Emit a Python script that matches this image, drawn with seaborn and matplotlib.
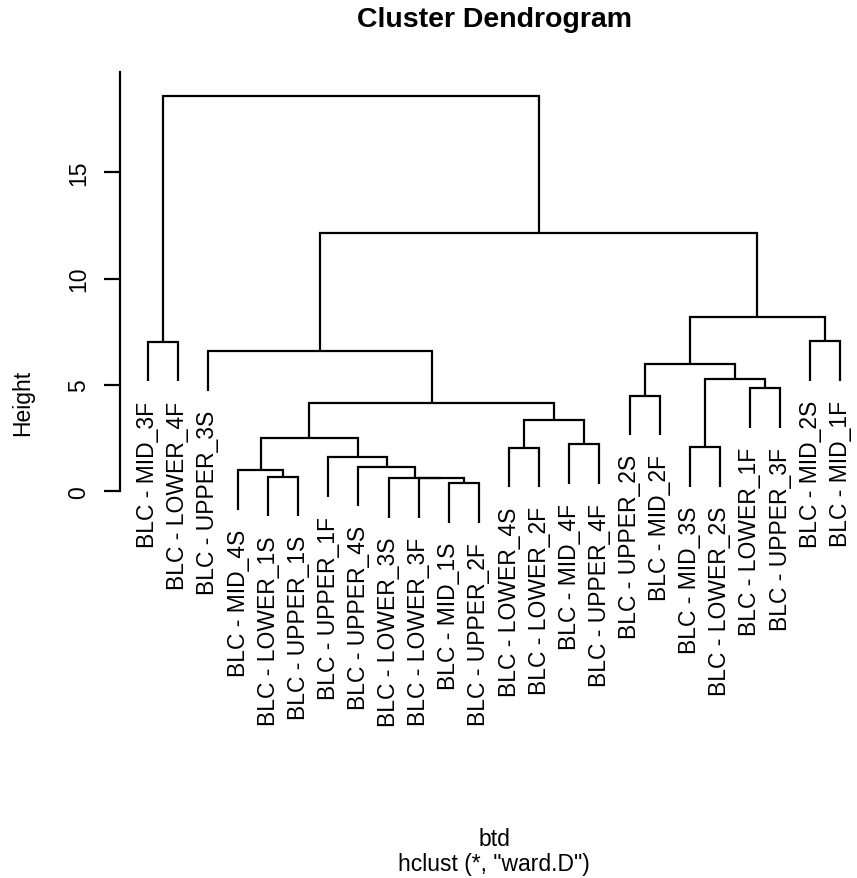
import pandas as pd
import seaborn as sns
import matplotlib.pyplot as plt
import matplotlib.transforms as mtransforms

# leaf labels, in the order they appear along the x axis
labels = ["BLC - MID_3F", "BLC - LOWER_4F", "BLC - UPPER_3S", "BLC - MID_4S",
          "BLC - LOWER_1S", "BLC - UPPER_1S", "BLC - UPPER_1F", "BLC - UPPER_4S",
          "BLC - LOWER_3S", "BLC - LOWER_3F", "BLC - MID_1S", "BLC - UPPER_2F",
          "BLC - LOWER_4S", "BLC - LOWER_2F", "BLC - MID_4F", "BLC - UPPER_4F",
          "BLC - UPPER_2S", "BLC - MID_2F", "BLC - MID_3S", "BLC - LOWER_2S",
          "BLC - LOWER_1F", "BLC - UPPER_3F", "BLC - MID_2S", "BLC - MID_1F"]

# hclust style merge table: negative = leaf number, positive = earlier merge row
merge_a = [-11, -10, -9, -5, -4, -8, -7, -13, -19, -15, 5, 8, 11,
           -17, -21, 9, 14, -3, -1, -23, 17, 18, 19]
merge_b = [-12, 1, 2, -6, 4, 3, 6, -14, -20, -16, 7, 10, 12,
           -18, -22, 15, 16, 13, -2, -24, 20, 21, 22]
heights = [0.37, 0.60, 0.62, 0.69, 0.99, 1.16, 1.60, 2.05, 2.07, 2.21, 2.52, 3.34, 4.14,
           4.49, 4.85, 5.29, 5.96, 6.57, 7.02, 7.04, 8.21, 12.16, 18.59]

y_ticks = [0, 5, 10, 15]


def dendro_segments(a_list, b_list, h_list):
    hang = 0.1 * max(h_list)
    node_x = {}
    leaf_end = {}
    rows = []
    for i, (a, b, h) in enumerate(zip(a_list, b_list, h_list), start=1):
        pts = []
        for c in (a, b):
            if c < 0:
                x, y0 = -c, h - hang
                leaf_end[-c] = y0
            else:
                x, y0 = node_x[c], h_list[c - 1]
            pts.append((x, y0))
        (xa, ya), (xb, yb) = pts
        for k, (x, y) in enumerate([(xa, ya), (xa, h), (xb, h), (xb, yb)]):
            rows.append({"seg": i, "step": k, "x": x, "y": y})
        node_x[i] = (xa + xb) / 2
    return pd.DataFrame(rows), leaf_end


segs, leaf_end = dendro_segments(merge_a, merge_b, heights)

sns.set_style("ticks")
plt.rcParams["font.family"] = ["Liberation Sans", "DejaVu Sans"]
plt.rcParams["text.color"] = "black"

fig = plt.figure(figsize=(8.57, 8.79), dpi=100)
ax = fig.add_axes([120 / 857, 1 - 733 / 879, 748 / 857, 660 / 879])

sns.lineplot(data=segs, x="x", y="y", units="seg", estimator=None, sort=False,
             color="black", linewidth=1.6, ax=ax,
             solid_joinstyle="miter", solid_capstyle="butt")

ax.set_xlim(0.08, 24.92)
ax.set_ylim(-11.32, 19.71)
ax.set_xlabel("")
ax.set_ylabel("")
ax.set_xticks([])
ax.set_yticks(y_ticks)
ax.set_yticklabels([str(t) for t in y_ticks])
ax.tick_params(axis="y", length=11.5, width=1.6, pad=18.5, labelsize=16.5,
               labelrotation=90, color="black", labelcolor="black")
for t in ax.get_yticklabels():
    t.set_ha("center")
    t.set_va("center")

sns.despine(ax=ax, bottom=True)
ax.spines["left"].set_bounds(0, 19.71)
ax.spines["left"].set_linewidth(1.6)
ax.spines["left"].set_color("black")

# leaf labels hang below each leaf end
shift = mtransforms.ScaledTranslation(0, -0.19, fig.dpi_scale_trans)
for i, lab in enumerate(labels, start=1):
    ax.text(i, leaf_end[i], lab, rotation=90, rotation_mode="anchor",
            ha="right", va="center", fontsize=16.5, color="black",
            transform=ax.transData + shift)

fig.text(494 / 857, 1 - 20 / 879, "Cluster Dendrogram", ha="center", va="center",
         fontsize=20.5, fontweight="bold", color="black")
fig.text(23 / 857, 1 - 403 / 879, "Height", rotation=90, ha="center", va="center",
         fontsize=16.5, color="black")
fig.text(494 / 857, 1 - 840 / 879, "btd", ha="center", va="center", fontsize=16.5,
         color="black")
fig.text(494 / 857, 1 - 865 / 879, 'hclust (*, "ward.D")', ha="center", va="center",
         fontsize=16.5, color="black")

fig.savefig("out.png", dpi=100)
